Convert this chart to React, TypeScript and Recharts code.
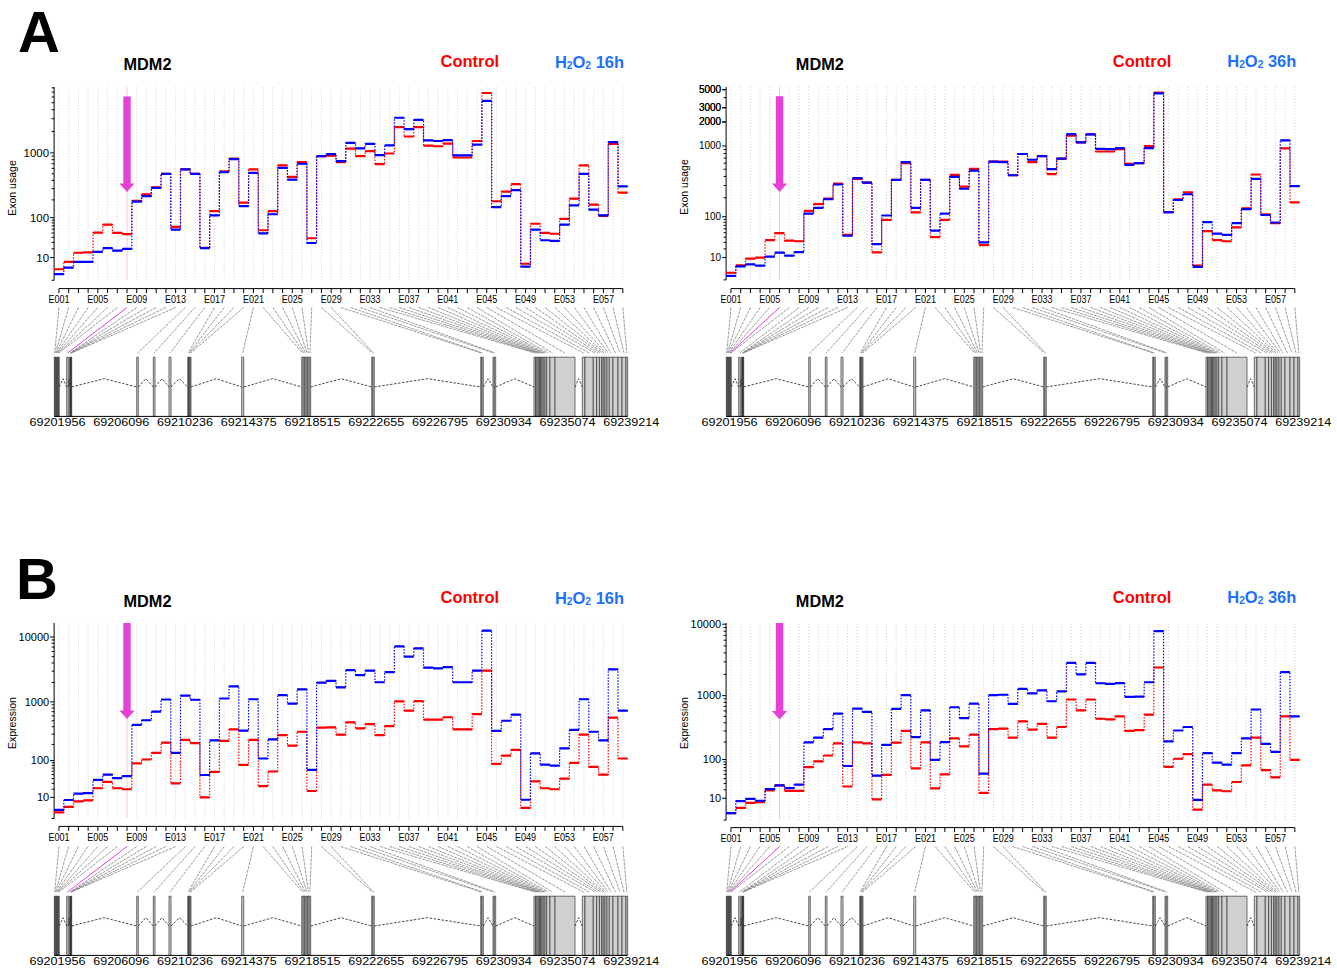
import React from 'react';
import { ComposedChart, Line, XAxis, YAxis, ReferenceLine, ReferenceArea } from 'recharts';

// ---------- categories / ticks ----------
const exonLabels = Array.from({ length: 59 }, (_, i) => `E${String(i + 1).padStart(3, '0')}`);
const exonNumbers = exonLabels.map((_, i) => i + 1);
const genomicTicks = [69201956, 69206096, 69210236, 69214375, 69218515, 69222655, 69226795, 69230934, 69235074, 69239214];
const geneStart = 69201956;
const geneEnd = 69239214;

// exonic bins (genomic start / end)
const binStart = [69201969, 69202015, 69202060, 69202105, 69202151, 69202196, 69202242, 69202774, 69202969, 69203002, 69203028, 69203054, 69203073, 69207321, 69208400, 69209419, 69210634, 69210686, 69210738, 69210796, 69214142, 69218039, 69218136, 69218234, 69218331, 69218429, 69218526, 69222585, 69222670, 69229666, 69229750, 69230465, 69230549, 69233128, 69233225, 69233323, 69233407, 69233485, 69233563, 69233647, 69233732, 69233842, 69233953, 69234167, 69234492, 69236265, 69236440, 69236979, 69237200, 69237380, 69237525, 69237629, 69237740, 69237870, 69238019, 69238260, 69238585, 69238845, 69239105];
const binEnd = [69202015, 69202060, 69202105, 69202151, 69202196, 69202242, 69202294, 69202878, 69203002, 69203028, 69203054, 69203073, 69203099, 69207425, 69208510, 69209549, 69210686, 69210738, 69210796, 69210848, 69214272, 69218136, 69218234, 69218331, 69218429, 69218526, 69218623, 69222670, 69222754, 69229750, 69229835, 69230549, 69230640, 69233225, 69233323, 69233407, 69233485, 69233563, 69233647, 69233732, 69233842, 69233953, 69234167, 69234492, 69235791, 69236440, 69236979, 69237200, 69237380, 69237525, 69237629, 69237740, 69237870, 69238019, 69238260, 69238585, 69238845, 69239105, 69239214];

// ---------- series values ----------
// A: exon usage, Control vs H2O2 16h
const controlA16 = [2.3, 6.5, 15, 15.5, 51, 74, 50, 47, 193, 245, 315, 500, 67, 580, 500, 21.5, 130, 545, 830, 180, 580, 57, 130, 665, 450, 740, 38, 900, 910, 735, 1150, 900, 1060, 690, 980, 2300, 1700, 2300, 1270, 1240, 1350, 860, 860, 1470, 6800, 190, 270, 350, 5.2, 77, 50, 48, 95, 210, 665, 168, 108, 1340, 260];
const treatedA16 = [0.7, 3, 6.5, 6.5, 16, 21, 17.5, 20, 188, 230, 308, 500, 59, 580, 500, 21, 110, 530, 815, 158, 515, 49, 115, 610, 410, 700, 29, 900, 960, 765, 1380, 1160, 1340, 930, 1280, 3100, 2150, 2900, 1500, 1470, 1510, 920, 920, 1310, 5300, 152, 230, 285, 3.5, 59, 34, 33, 74, 163, 500, 138, 110, 1420, 325];
// A: exon usage, Control vs H2O2 36h
const controlA36 = [1.0, 4.2, 9, 10, 34, 49, 33, 32, 125, 160, 195, 320, 45, 370, 330, 15.5, 88, 360, 600, 118, 360, 40, 88, 420, 290, 505, 25.5, 630, 630, 415, 790, 620, 740, 430, 690, 1350, 1110, 1400, 850, 850, 910, 590, 600, 1000, 4600, 120, 190, 240, 4, 54, 34, 32, 64, 137, 425, 110, 77, 930, 170];
const treatedA36 = [0.3, 3.6, 4.8, 4, 11, 15.2, 12, 15.8, 113, 140, 190, 310, 43, 380, 330, 27, 105, 360, 620, 140, 360, 55, 113, 395, 270, 480, 30, 630, 620, 415, 790, 665, 740, 500, 690, 1410, 1110, 1400, 920, 910, 940, 570, 600, 940, 4500, 118, 185, 225, 3.3, 80, 48, 45, 77, 134, 370, 107, 79, 1180, 295];
// B: expression, Control vs H2O2 16h
const controlB16 = [0.8, 2.9, 6.4, 7.3, 21.5, 33, 21.5, 20, 88, 105, 140, 215, 30, 240, 210, 10, 58, 230, 360, 82, 240, 25, 59, 290, 190, 330, 17.5, 385, 390, 295, 470, 375, 440, 290, 410, 1020, 730, 1030, 520, 520, 570, 360, 360, 640, 3050, 86, 125, 160, 2.4, 34, 21.5, 20, 40, 90, 295, 74, 50, 560, 110];
const treatedB16 = [1.6, 7.6, 14, 14.8, 37, 50, 41, 46, 430, 510, 700, 1090, 140, 1250, 1080, 49, 235, 1130, 1750, 345, 1100, 110, 245, 1280, 940, 1570, 64, 2000, 2130, 1680, 3100, 2600, 3050, 2020, 2900, 7200, 5000, 6700, 3400, 3300, 3450, 2020, 2020, 3050, 12500, 340, 500, 630, 7.8, 138, 83, 79, 170, 355, 1100, 330, 235, 3200, 725];
// B: expression, Control vs H2O2 36h
const controlB36 = [0.95, 3, 6.1, 6.6, 19.3, 27, 18.4, 18.4, 71, 92, 118, 190, 25, 197, 190, 9, 49, 195, 300, 67, 197, 22, 50, 230, 170, 262, 16, 320, 325, 235, 420, 315, 385, 235, 345, 880, 610, 880, 460, 450, 500, 300, 310, 530, 2500, 72, 103, 125, 2.2, 28, 19.3, 18, 33, 77, 235, 62, 43, 500, 98];
const treatedB36 = [1.0, 7.5, 9.4, 7.8, 20.8, 27, 22.5, 28, 197, 235, 320, 550, 75, 650, 580, 47, 180, 645, 1020, 240, 610, 98, 200, 680, 470, 770, 52, 1020, 1030, 760, 1250, 1080, 1190, 830, 1150, 2900, 2000, 2900, 1500, 1470, 1510, 960, 970, 1550, 8000, 205, 305, 345, 8.5, 130, 87, 80, 130, 230, 630, 187, 137, 2150, 500];

const yLabelsA16 = [10, 100, 1000];
const yLabelsA36 = [10, 100, 1000, 2000, 3000, 5000];
const yLabelsB = [10, 100, 1000, 10000];

// ---------- styling ----------
const RED = '#FF0000';
const BLUE = '#0000FF';
const PINK = '#E640D6';
const FONT = "'Liberation Sans', Arial, Helvetica, sans-serif";
const PLOT_LEFT = 54.1;
const PLOT_RIGHT = 627.7;
const CHART_W = 640;
const GENE_W = 700;

const vst = (v: number, s: number) => Math.asinh(Math.sqrt(Math.max(v, 0) / s));
const inv = (f: number, s: number) => s * Math.sinh(f) ** 2;

type PanelCfg = {
  xOff: number; plotTop: number; axisY: number; y0: number; k: number; s: number;
  control: number[]; treated: number[]; yLabels: number[]; tickFont: number;
  yTitle: string; treatment: string; arrowExon: number; arrowFrom: number | null; arrowTo: number;
  titleY: number; legendY: number; yTitleY: number;
};

const panels: PanelCfg[] = [
  { xOff: 0, plotTop: 86.7, axisY: 288.3, y0: 280.0, k: 63.5, s: 75, control: controlA16, treated: treatedA16, yLabels: yLabelsA16, tickFont: 11.5, yTitle: 'Exon usage', treatment: '16h', arrowExon: 8, arrowFrom: 6100, arrowTo: 266, titleY: 64, legendY: 61, yTitleY: 188.3 },
  { xOff: 672.3, plotTop: 86.7, axisY: 288.3, y0: 279.6, k: 71.67, s: 100, control: controlA36, treated: treatedA36, yLabels: yLabelsA36, tickFont: 10, yTitle: 'Exon usage', treatment: '36h', arrowExon: 6, arrowFrom: 4150, arrowTo: 243, titleY: 64, legendY: 60.5, yTitleY: 187 },
  { xOff: 0, plotTop: 623.3, axisY: 826.7, y0: 818.8, k: 57.17, s: 70, control: controlB16, treated: treatedB16, yLabels: yLabelsB, tickFont: 11, yTitle: 'Expression', treatment: '16h', arrowExon: 8, arrowFrom: null, arrowTo: 534, titleY: 600.7, legendY: 596.7, yTitleY: 722.5 },
  { xOff: 672.3, plotTop: 622.7, axisY: 827.3, y0: 819.8, k: 63, s: 80, control: controlB36, treated: treatedB36, yLabels: yLabelsB, tickFont: 11, yTitle: 'Expression', treatment: '36h', arrowExon: 6, arrowFrom: null, arrowTo: 447, titleY: 600.7, legendY: 596.5, yTitleY: 722.7 },
];

const lineCommon = { dot: false, activeDot: false, isAnimationActive: false, legendType: 'none' as const };

function stepData(vals: number[], s: number) {
  const d = vals.map((v, i) => ({ x: i + 0.5, y: vst(v, s) }));
  d.push({ x: vals.length + 0.5, y: vst(vals[vals.length - 1], s) });
  return d;
}
function flatData(vals: number[], s: number) {
  const d: { x: number; y: number | null }[] = [];
  vals.forEach((v, i) => {
    const f = vst(v, s);
    d.push({ x: i + 0.5, y: f }, { x: i + 1.5, y: f }, { x: i + 1.5, y: null });
  });
  return d;
}

function ExpressionPanel({ p }: { p: PanelCfg }) {
  const topPad = 10;
  const xAxisH = 24;
  const plotH = p.axisY - p.plotTop;
  const H = topPad + plotH + xAxisH;
  const fMin = -(p.axisY - p.y0) / p.k;
  const fTop = (p.y0 - p.plotTop) / p.k;
  const T = (v: number) => vst(v, p.s);

  const minor: number[] = [0];
  [10, 100, 1000, 10000].forEach((d) => {
    for (let m = 2; m <= 9; m++) if (T(d * m) <= fTop) minor.push(d * m);
  });
  const allTicks = [...minor, ...p.yLabels].filter((v) => T(v) <= fTop + 1e-9).map(T).sort((a, b) => a - b);

  const grid: { x: number; y: number | null }[] = [];
  exonNumbers.forEach((n) => {
    if (n === p.arrowExon) return;
    grid.push({ x: n, y: 0 }, { x: n, y: fTop }, { x: n, y: null });
  });
  const hiGrid = [{ x: p.arrowExon, y: 0 }, { x: p.arrowExon, y: fTop }];

  const XTick = (props: any) => {
    const { x, y, payload } = props;
    const n = payload.value as number;
    const show = (n - 1) % 4 === 0;
    return (
      <g>
        <line x1={x} y1={y} x2={x} y2={y + 4.5} stroke="#000" strokeWidth={1} />
        {show && (
          <text x={x} y={y + 14.7} textAnchor="middle" fontSize={11.5} fill="#000" textLength={21} lengthAdjust="spacingAndGlyphs">
            {exonLabels[n - 1]}
          </text>
        )}
      </g>
    );
  };
  const YTick = (props: any) => {
    const { x, y, payload } = props;
    const v = Math.round(inv(payload.value, p.s));
    const lab = p.yLabels.includes(v) && payload.value > 0.01;
    return (
      <g>
        <line x1={x - (lab ? 4 : 2.5)} y1={y} x2={x} y2={y} stroke="#000" strokeWidth={1} />
        {lab && (
          <text x={x - 5} y={y} dy="0.35em" textAnchor="end" fontSize={p.tickFont} fill="#000">
            {v}
          </text>
        )}
      </g>
    );
  };
  const arrowShape = (props: any) => {
    const { x1, y1, y2 } = props;
    if (x1 == null || y1 == null || y2 == null) return <g />;
    const cx = x1, sw = 3.7, hw = 7.6, hl = 8.5;
    const pts = [[cx - sw, y1], [cx + sw, y1], [cx + sw, y2 - hl], [cx + hw, y2 - hl], [cx, y2], [cx - hw, y2 - hl], [cx - sw, y2 - hl]];
    return <polygon points={pts.map((q) => q.join(',')).join(' ')} fill={PINK} />;
  };

  return (
    <div style={{ position: 'absolute', left: p.xOff, top: p.plotTop - topPad, width: CHART_W, height: H }}>
      <ComposedChart width={CHART_W} height={H} margin={{ top: topPad, right: CHART_W - PLOT_RIGHT, bottom: 0, left: 0 }}>
        <XAxis type="number" dataKey="x" domain={[0.5, 59.5]} ticks={exonNumbers} interval={0} height={xAxisH}
          axisLine={false} tickLine={false} tickSize={0} tickMargin={0} tick={XTick} allowDecimals />
        <YAxis type="number" domain={[fMin, fTop]} ticks={allTicks} interval={0} width={PLOT_LEFT}
          axisLine={false} tickLine={false} tickSize={0} tickMargin={0} tick={YTick} />
        <Line {...lineCommon} data={grid} dataKey="y" stroke="#cfcfcf" strokeWidth={1} strokeDasharray="1 2" />
        <Line {...lineCommon} data={hiGrid} dataKey="y" stroke="#f3c3ee" strokeWidth={1} />
        <Line {...lineCommon} data={[{ x: 0.5, y: 0 }, { x: 0.5, y: fTop }]} dataKey="y" stroke="#000" strokeWidth={1} />
        <Line {...lineCommon} data={[{ x: 1, y: fMin }, { x: 59, y: fMin }]} dataKey="y" stroke="#000" strokeWidth={1} />
        <Line {...lineCommon} data={stepData(p.control, p.s)} dataKey="y" type="stepAfter" stroke={RED} strokeWidth={1.2} strokeDasharray="1.5 1.5" />
        <Line {...lineCommon} data={flatData(p.control, p.s)} dataKey="y" stroke={RED} strokeWidth={2.2} />
        <Line {...lineCommon} data={stepData(p.treated, p.s)} dataKey="y" type="stepAfter" stroke={BLUE} strokeWidth={1.2} strokeDasharray="1.5 1.5" />
        <Line {...lineCommon} data={flatData(p.treated, p.s)} dataKey="y" stroke={BLUE} strokeWidth={2.2} />
        <ReferenceLine
          segment={[{ x: p.arrowExon, y: p.arrowFrom == null ? fTop : T(p.arrowFrom) }, { x: p.arrowExon, y: T(p.arrowTo) }]}
          shape={arrowShape}
          ifOverflow="visible"
        />
      </ComposedChart>
    </div>
  );
}

function GeneModel({ xOff, axisY, highlight }: { xOff: number; axisY: number; highlight: number }) {
  const top = axisY + 16;
  const bottom = axisY + 128.4;
  const topPad = 4;
  const labelH = 16;
  const H = topPad + (bottom - top) + labelH;
  const toY = (off: number) => (bottom - (axisY + off)) / (bottom - top);
  const lineTop = toY(19.5);
  const lineBottom = toY(65);
  const boxTop = toY(69.2);
  const intronBase = toY(99);
  const intronPeak = toY(90.7);

  const span = geneEnd - geneStart;
  const topX = (i: number) => geneStart + ((i + 0.5) / 59) * span;
  const conn: { x: number; y: number | null }[] = [];
  const hi: { x: number; y: number }[] = [];
  binStart.forEach((s, i) => {
    const mid = (s + binEnd[i]) / 2;
    if (i + 1 === highlight) {
      hi.push({ x: topX(i), y: lineTop }, { x: mid, y: lineBottom });
    } else {
      conn.push({ x: topX(i), y: lineTop }, { x: mid, y: lineBottom }, { x: mid, y: null });
    }
  });
  const introns: { x: number; y: number | null }[] = [];
  for (let i = 0; i < binStart.length - 1; i++) {
    if (binStart[i + 1] > binEnd[i] + 1) {
      const a = binEnd[i], b = binStart[i + 1];
      introns.push({ x: a, y: intronBase }, { x: (a + b) / 2, y: intronPeak }, { x: b, y: intronBase }, { x: b, y: null });
    }
  }
  const GTick = (props: any) => {
    const { x, y, payload } = props;
    return (
      <text x={x + 3.5} y={y + 10} textAnchor="middle" fontSize={10.5} fill="#000" textLength={56} lengthAdjust="spacingAndGlyphs">
        {payload.value}
      </text>
    );
  };
  return (
    <div style={{ position: 'absolute', left: xOff, top: top - topPad, width: GENE_W, height: H }}>
      <ComposedChart width={GENE_W} height={H} margin={{ top: topPad, right: GENE_W - PLOT_RIGHT, bottom: 0, left: PLOT_LEFT }}>
        <XAxis type="number" dataKey="x" domain={[geneStart, geneEnd]} ticks={genomicTicks} interval={0} height={labelH}
          axisLine={{ stroke: '#000', strokeWidth: 1 }} tickLine={false} tickSize={0} tickMargin={0} tick={GTick} />
        <YAxis hide type="number" domain={[0, 1]} />
        <Line {...lineCommon} data={conn} dataKey="y" stroke="#808080" strokeWidth={0.8} strokeDasharray="3 1" />
        <Line {...lineCommon} data={hi} dataKey="y" stroke="#E23FD6" strokeWidth={1} />
        <Line {...lineCommon} data={introns} dataKey="y" stroke="#333" strokeWidth={0.9} strokeDasharray="2.5 1.5" />
        {binStart.map((s, i) => (
          <ReferenceArea key={i} x1={s} x2={binEnd[i]} y1={0} y2={boxTop} fill="#d0d0d0" fillOpacity={1} stroke="#333" strokeWidth={0.7} ifOverflow="visible" />
        ))}
      </ComposedChart>
    </div>
  );
}

function Txt({ x, y, children, style }: { x: number; y: number; children: React.ReactNode; style?: React.CSSProperties }) {
  return (
    <div style={{ position: 'absolute', left: x, top: y, transform: 'translate(-50%, -50%)', whiteSpace: 'nowrap', lineHeight: 1.25, ...style }}>
      {children}
    </div>
  );
}

const subStyle: React.CSSProperties = { fontSize: '0.62em', verticalAlign: '-0.12em' };

export default function App() {
  return (
    <div style={{ position: 'absolute', left: 0, top: 0, width: 1337, height: 969, background: '#fff', fontFamily: FONT, overflow: 'hidden' }}>
      <Txt x={39} y={32} style={{ fontSize: 58, fontWeight: 'bold' }}>A</Txt>
      <Txt x={37} y={578.5} style={{ fontSize: 58, fontWeight: 'bold' }}>B</Txt>
      {panels.map((p, idx) => (
        <React.Fragment key={idx}>
          <ExpressionPanel p={p} />
          <GeneModel xOff={p.xOff} axisY={p.axisY} highlight={p.arrowExon} />
          <Txt x={p.xOff + 147.5} y={p.titleY} style={{ fontSize: 16.3, fontWeight: 'bold' }}>MDM2</Txt>
          <Txt x={p.xOff + 469.8} y={p.legendY} style={{ fontSize: 16.5, fontWeight: 'bold', color: RED }}>Control</Txt>
          <Txt x={p.xOff + 589.5} y={p.legendY + 0.8} style={{ fontSize: 16.5, fontWeight: 'bold', color: '#1F6FFF' }}>
            H<span style={subStyle}>2</span>O<span style={subStyle}>2</span> {p.treatment}
          </Txt>
          <Txt x={p.xOff + 12.8} y={p.yTitleY} style={{ fontSize: 10.5, transform: 'translate(-50%, -50%) rotate(-90deg)' }}>{p.yTitle}</Txt>
        </React.Fragment>
      ))}
    </div>
  );
}
